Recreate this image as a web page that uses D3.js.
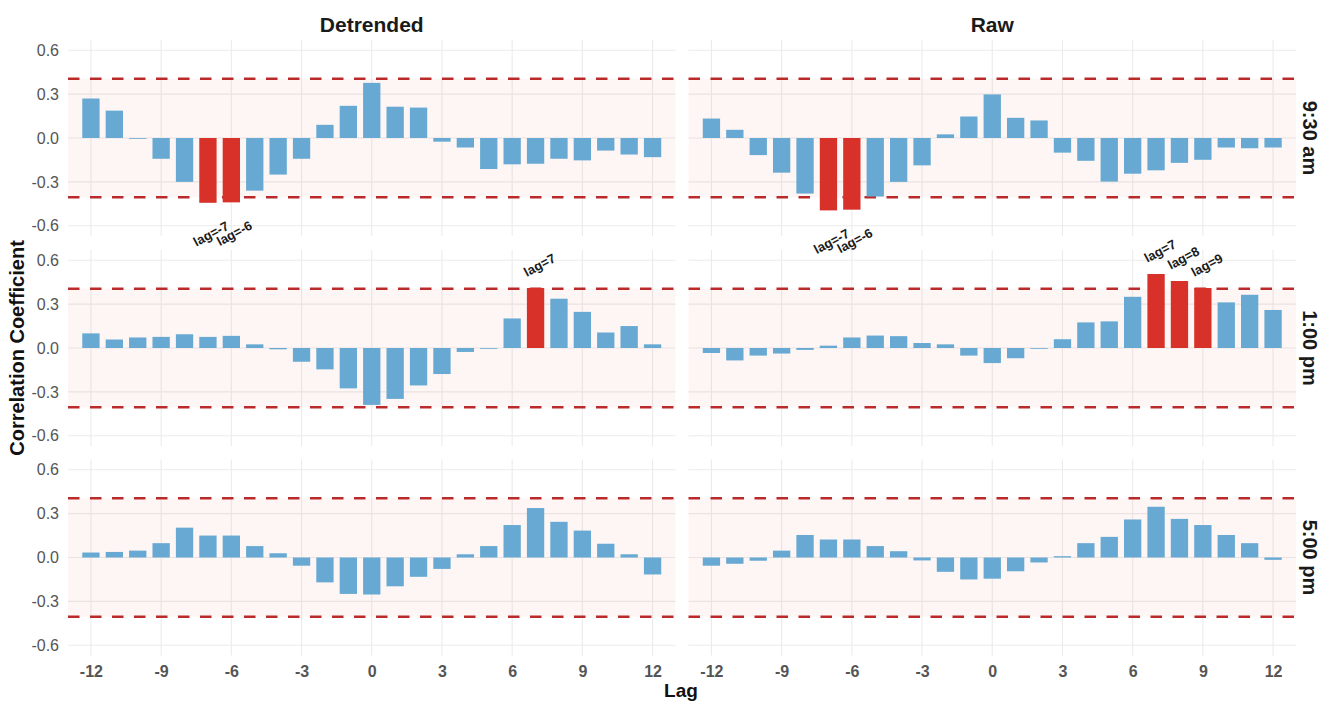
<!DOCTYPE html>
<html>
<head>
<meta charset="utf-8">
<script src="https://cdn.jsdelivr.net/npm/d3@7"></script>
<style>
  body { margin: 0; background: #fff; }
  text { font-family: "Liberation Sans", Arial, sans-serif; }
</style>
</head>
<body>
<svg id="chart" width="1327" height="701"></svg>
<script>
// Cross-correlation by lag, for each series type (columns) and time of day (rows)
const lags = [-12, -11, -10, -9, -8, -7, -6, -5, -4, -3, -2, -1, 0, 1, 2, 3, 4, 5, 6, 7, 8, 9, 10, 11, 12];
const methods = ["Detrended", "Raw"];
const times = ["9:30 am", "1:00 pm", "5:00 pm"];

const detrended930 = [0.27, 0.187, -0.005, -0.142, -0.30, -0.443, -0.44, -0.36, -0.25, -0.142, 0.09, 0.22, 0.377, 0.214, 0.208, -0.025, -0.065, -0.212, -0.18, -0.176, -0.142, -0.153, -0.086, -0.113, -0.131];
const raw930       = [0.133, 0.056, -0.117, -0.237, -0.38, -0.495, -0.49, -0.40, -0.30, -0.187, 0.025, 0.147, 0.298, 0.138, 0.12, -0.10, -0.156, -0.298, -0.244, -0.221, -0.17, -0.149, -0.065, -0.07, -0.065];
const detrended100 = [0.10, 0.058, 0.072, 0.076, 0.094, 0.076, 0.083, 0.025, -0.009, -0.094, -0.146, -0.276, -0.389, -0.348, -0.256, -0.178, -0.027, -0.004, 0.202, 0.41, 0.337, 0.247, 0.106, 0.15, 0.025];
const raw100       = [-0.034, -0.085, -0.052, -0.038, -0.013, 0.016, 0.072, 0.085, 0.081, 0.034, 0.025, -0.052, -0.103, -0.07, 0.0, 0.06, 0.175, 0.182, 0.35, 0.506, 0.458, 0.41, 0.312, 0.364, 0.26];
const detrended500 = [0.034, 0.038, 0.047, 0.098, 0.204, 0.15, 0.15, 0.078, 0.029, -0.056, -0.17, -0.249, -0.253, -0.197, -0.132, -0.078, 0.022, 0.078, 0.222, 0.338, 0.244, 0.184, 0.094, 0.022, -0.116];
const raw500       = [-0.056, -0.043, -0.022, 0.047, 0.154, 0.123, 0.123, 0.078, 0.043, -0.02, -0.098, -0.15, -0.145, -0.094, -0.034, 0.009, 0.098, 0.141, 0.26, 0.347, 0.264, 0.222, 0.154, 0.098, -0.016];

const yTicks = [-0.6, -0.3, 0, 0.3, 0.6];
const xTicks = [-12, -9, -6, -3, 0, 3, 6, 9, 12];
const threshold = 0.405;   // significance bound drawn as dashed lines

// rows = time of day, columns = method
const grid = [
  [detrended930, raw930],
  [detrended100, raw100],
  [detrended500, raw500]
];

// ---- layout ----
const colLeft = [68, 688.5];
const rowTop = [40, 250, 459.5];
const panelW = 607.5, panelH = 196;

const colors = {
  bar: "#67a9d2",
  hit: "#d7312a",
  dash: "#bb2a2a",
  band: "#f0604a",
  grid: "#ebebeb",
  tick: "#555555",
  title: "#1a1a1a"
};

const svg = d3.select("#chart");

const x = d3.scaleLinear().domain([-12.98, 12.98]).range([0, panelW]);
const y = d3.scaleLinear().domain([-0.67, 0.67]).range([panelH, 0]);
const barW = x(0.74) - x(0);

grid.forEach((row, r) => {
  row.forEach((values, c) => {
    const g = svg.append("g")
      .attr("transform", `translate(${colLeft[c]},${rowTop[r]})`);

    // gridlines
    g.selectAll("line.hg").data(yTicks).join("line")
      .attr("x1", 0).attr("x2", panelW)
      .attr("y1", d => y(d)).attr("y2", d => y(d))
      .attr("stroke", colors.grid).attr("stroke-width", 1.1);
    g.selectAll("line.vg").data(xTicks).join("line")
      .attr("y1", 0).attr("y2", panelH)
      .attr("x1", d => x(d)).attr("x2", d => x(d))
      .attr("stroke", colors.grid).attr("stroke-width", 1.1);

    // shaded non-significant band
    g.append("rect")
      .attr("x", 0).attr("width", panelW)
      .attr("y", y(threshold)).attr("height", y(-threshold) - y(threshold))
      .attr("fill", colors.band).attr("fill-opacity", 0.06);

    // significance bounds
    g.selectAll("line.bound").data([threshold, -threshold]).join("line")
      .attr("x1", 0).attr("x2", panelW)
      .attr("y1", d => y(d)).attr("y2", d => y(d))
      .attr("stroke", colors.dash).attr("stroke-width", 2.6)
      .attr("stroke-dasharray", "11.5,10.5");

    const data = lags.map((lag, i) => ({ lag, v: values[i], hit: Math.abs(values[i]) > threshold }));

    // bars
    g.selectAll("rect.bar").data(data).join("rect")
      .attr("x", d => x(d.lag) - barW / 2)
      .attr("width", barW)
      .attr("y", d => y(Math.max(0, d.v)))
      .attr("height", d => Math.max(0.8, Math.abs(y(d.v) - y(0))))
      .attr("fill", d => d.hit ? colors.hit : colors.bar);

    // labels for significant lags
    g.selectAll("text.lab").data(data.filter(d => d.hit)).join("text")
      .attr("transform", d => {
        const px = x(d.lag) + (d.v > 0 ? 4 : 3);
        const py = d.v > 0 ? y(d.v) - 23 : y(d.v) + 31;
        return `translate(${px},${py}) rotate(-28)`;
      })
      .attr("text-anchor", "middle")
      .attr("dominant-baseline", "central")
      .attr("font-size", 13).attr("font-weight", "bold")
      .attr("fill", colors.title)
      .text(d => `lag=${d.lag}`);
  });

  // y axis on the left column
  const yAxis = svg.append("g")
    .attr("transform", `translate(${colLeft[0]},${rowTop[r]})`)
    .call(d3.axisLeft(y).tickValues(yTicks).tickFormat(d => d.toFixed(1)).tickSize(0).tickPadding(9));
  yAxis.select(".domain").remove();
  yAxis.selectAll("text")
    .attr("font-family", "Liberation Sans, Arial, sans-serif")
    .attr("font-size", 16).attr("fill", colors.tick);

  // time-of-day strip label on the right
  svg.append("text")
    .attr("transform", `translate(1310,${rowTop[r] + panelH / 2}) rotate(90)`)
    .attr("text-anchor", "middle").attr("dominant-baseline", "central")
    .attr("font-size", 20).attr("font-weight", "bold").attr("fill", colors.title)
    .text(times[r]);
});

// x axes under the bottom row
colLeft.forEach(cx => {
  const xAxis = svg.append("g")
    .attr("transform", `translate(${cx},${rowTop[2] + panelH})`)
    .call(d3.axisBottom(x).tickValues(xTicks).tickFormat(d => String(d)).tickSize(0).tickPadding(10));
  xAxis.select(".domain").remove();
  xAxis.selectAll("text")
    .attr("font-family", "Liberation Sans, Arial, sans-serif")
    .attr("font-size", 16).attr("font-weight", "bold").attr("fill", colors.tick);
});

// column titles
methods.forEach((m, c) => {
  svg.append("text")
    .attr("x", colLeft[c] + x(0)).attr("y", 32)
    .attr("text-anchor", "middle")
    .attr("font-size", 21).attr("font-weight", "bold").attr("fill", colors.title)
    .text(m);
});

// axis titles
svg.append("text")
  .attr("x", 681).attr("y", 697)
  .attr("text-anchor", "middle")
  .attr("font-size", 19).attr("font-weight", "bold").attr("fill", "#111")
  .text("Lag");

svg.append("text")
  .attr("transform", `translate(17,${rowTop[1] + panelH / 2}) rotate(-90)`)
  .attr("text-anchor", "middle").attr("dominant-baseline", "central")
  .attr("font-size", 20).attr("font-weight", "bold").attr("fill", "#111")
  .text("Correlation Coefficient");
</script>
</body>
</html>
